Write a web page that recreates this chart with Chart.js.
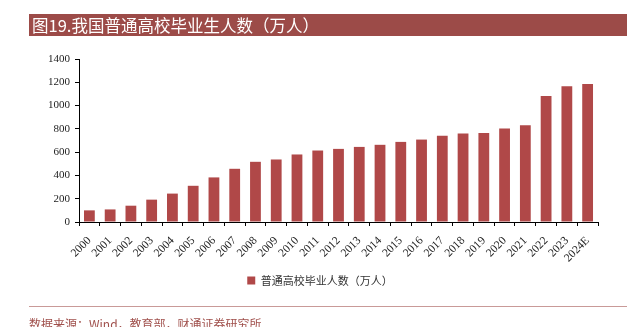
<!DOCTYPE html>
<html>
<head>
<meta charset="utf-8">
<script src="https://cdn.jsdelivr.net/npm/chart.js@4"></script>
<style>
  html, body { margin: 0; padding: 0; background: #fff; }
  body { width: 627px; height: 327px; overflow: hidden; position: relative; }
  #title {
    position: absolute; left: 29px; top: 14px; width: 598px; height: 22px;
    background: #9c4b48; color: #fff;
    font: 16.5px/22px "Noto Sans CJK SC", sans-serif; padding-left: 3px; box-sizing: border-box;
    white-space: nowrap;
  }
  #chartBox { position: absolute; left: 0; top: 0; width: 627px; height: 327px; }
  #rule { position: absolute; left: 29px; top: 306px; width: 598px; height: 1px; background: #c99a98; }
  #source {
    position: absolute; left: 29px; top: 317px; color: #a0504c;
    font: 12px/14px "Noto Sans CJK SC", sans-serif; white-space: nowrap;
  }
</style>
</head>
<body>
<div id="chartBox"><canvas id="chart" width="627" height="327"></canvas></div>
<div id="title">图19.我国普通高校毕业生人数（万人）</div>
<div id="rule"></div>
<div id="source">数据来源：Wind，教育部，财通证券研究所</div>
<script>
const years = ['2000', '2001', '2002', '2003', '2004', '2005', '2006', '2007', '2008', '2009',
  '2010', '2011', '2012', '2013', '2014', '2015', '2016', '2017', '2018', '2019',
  '2020', '2021', '2022', '2023', '2024E'];
const graduates = [100, 108, 140, 192, 244, 311, 383, 457, 517, 537,
  580, 614, 628, 645, 663, 688, 708, 740, 760, 765,
  803, 831, 1083, 1165, 1185];
const yTicks = [0, 200, 400, 600, 800, 1000, 1200, 1400];
const seriesName = '普通高校毕业人数（万人）';

const serif = 'Liberation Serif, Times New Roman, serif';

new Chart(document.getElementById('chart').getContext('2d'), {
  type: 'bar',
  data: {
    labels: years,
    datasets: [{
      label: seriesName,
      data: graduates,
      backgroundColor: '#b04848',
      borderWidth: 0,
      categoryPercentage: 1,
      barPercentage: 0.52
    }]
  },
  options: {
    responsive: false,
    animation: false,
    // left padding shifts the legend centre; y axis width keeps the axis at x=79
    layout: { padding: { left: 42, right: 29, top: 59, bottom: 31 } },
    plugins: {
      tooltip: { enabled: false },
      legend: {
        position: 'bottom',
        labels: {
          boxWidth: 8, boxHeight: 8, padding: 10,
          color: '#333',
          font: { family: '"Noto Sans CJK SC", sans-serif', size: 11 }
        }
      }
    },
    scales: {
      x: {
        offset: true,
        grid: { offset: true, drawOnChartArea: false, tickLength: 4, color: '#000' },
        border: { color: '#000', width: 1 },
        ticks: {
          minRotation: 45, maxRotation: 45, autoSkip: false, padding: 8,
          color: '#222', font: { family: serif, size: 11.5 }
        },
        afterFit: s => { s.height = 43; }
      },
      y: {
        min: 0, max: 1400,
        afterBuildTicks: s => { s.ticks = yTicks.map(v => ({ value: v })); },
        grid: { drawOnChartArea: false, tickLength: 4, color: '#000' },
        border: { color: '#000', width: 1 },
        ticks: {
          padding: 5, color: '#222', font: { family: serif, size: 11 },
          callback: v => String(v)
        },
        afterFit: s => { s.width = 37; }
      }
    }
  }
});
</script>
</body>
</html>
